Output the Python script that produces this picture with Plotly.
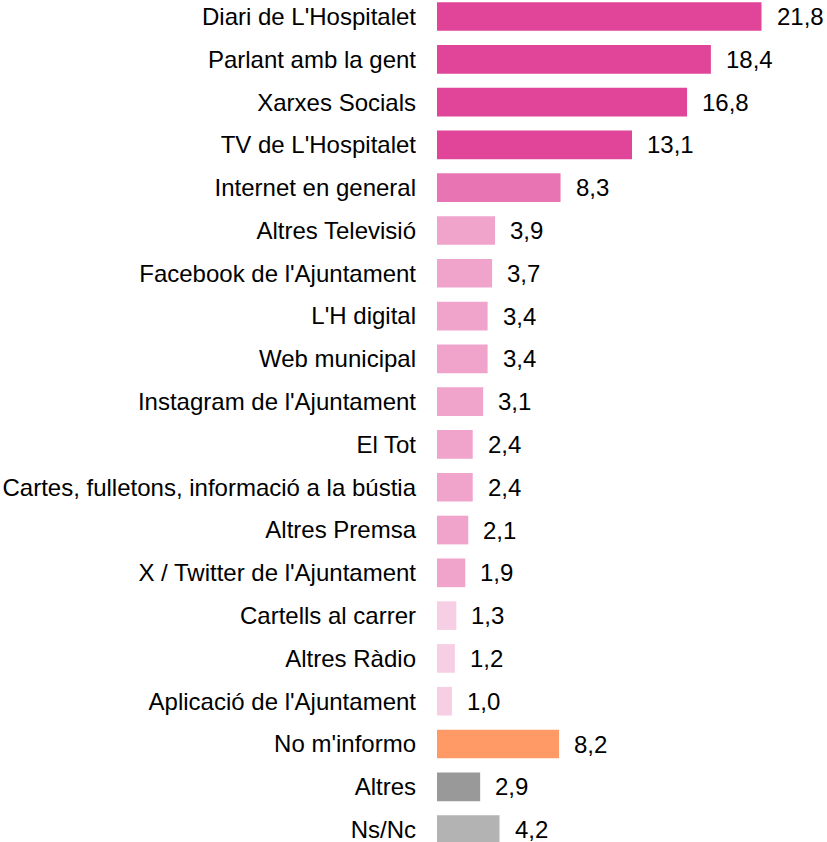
import plotly.graph_objects as go

# categories top to bottom
categories = [
    "Diari de L'Hospitalet",
    "Parlant amb la gent",
    "Xarxes Socials",
    "TV de L'Hospitalet",
    "Internet en general",
    "Altres Televisió",
    "Facebook de l'Ajuntament",
    "L'H digital",
    "Web municipal",
    "Instagram de l'Ajuntament",
    "El Tot",
    "Cartes, fulletons, informació a la bústia",
    "Altres Premsa",
    "X / Twitter de l'Ajuntament",
    "Cartells al carrer",
    "Altres Ràdio",
    "Aplicació de l'Ajuntament",
    "No m'informo",
    "Altres",
    "Ns/Nc",
]
values = [21.8, 18.4, 16.8, 13.1, 8.3, 3.9, 3.7, 3.4, 3.4, 3.1,
          2.4, 2.4, 2.1, 1.9, 1.3, 1.2, 1.0, 8.2, 2.9, 4.2]
colors = (["#E0459A"] * 4 + ["#E874B3"] + ["#F0A3CB"] * 9 +
          ["#F6CFE4"] * 3 + ["#FF9966", "#999999", "#B3B3B3"])

labels = [f"{v:.1f}".replace(".", ",") for v in values]

fig = go.Figure()
fig.add_trace(go.Bar(
    x=values, y=categories, orientation="h",
    marker=dict(color=colors, line=dict(width=0)),
    hoverinfo="skip", showlegend=False,
))

for v, c, t in zip(values, categories, labels):
    fig.add_annotation(x=v, y=c, text=t, showarrow=False,
                       xanchor="left", xshift=13,
                       font=dict(size=24, color="#000000",
                                 family="Liberation Sans, Arial, sans-serif"))

fig.update_layout(
    width=827, height=842,
    margin=dict(l=437, r=0, t=0, b=0, autoexpand=False),
    paper_bgcolor="white", plot_bgcolor="white",
    bargap=0.33,
    font=dict(family="Liberation Sans, Arial, sans-serif", size=24, color="#000000"),
    xaxis=dict(range=[0, 26.2], visible=False, showgrid=False, zeroline=False,
               automargin=False),
    yaxis=dict(
        type="category", categoryorder="array", categoryarray=categories,
        range=[19.29, -0.386], showgrid=False, zeroline=False, showline=False,
        ticks="", ticklabelstandoff=20, automargin=False,
        tickfont=dict(size=24, color="#000000"),
    ),
)

# drop the default 8px body margin so the figure sits at the window corner
fig.write_html("out.html",
               config={"displayModeBar": False, "staticPlot": True},
               post_script="document.body.style.margin='0';")
